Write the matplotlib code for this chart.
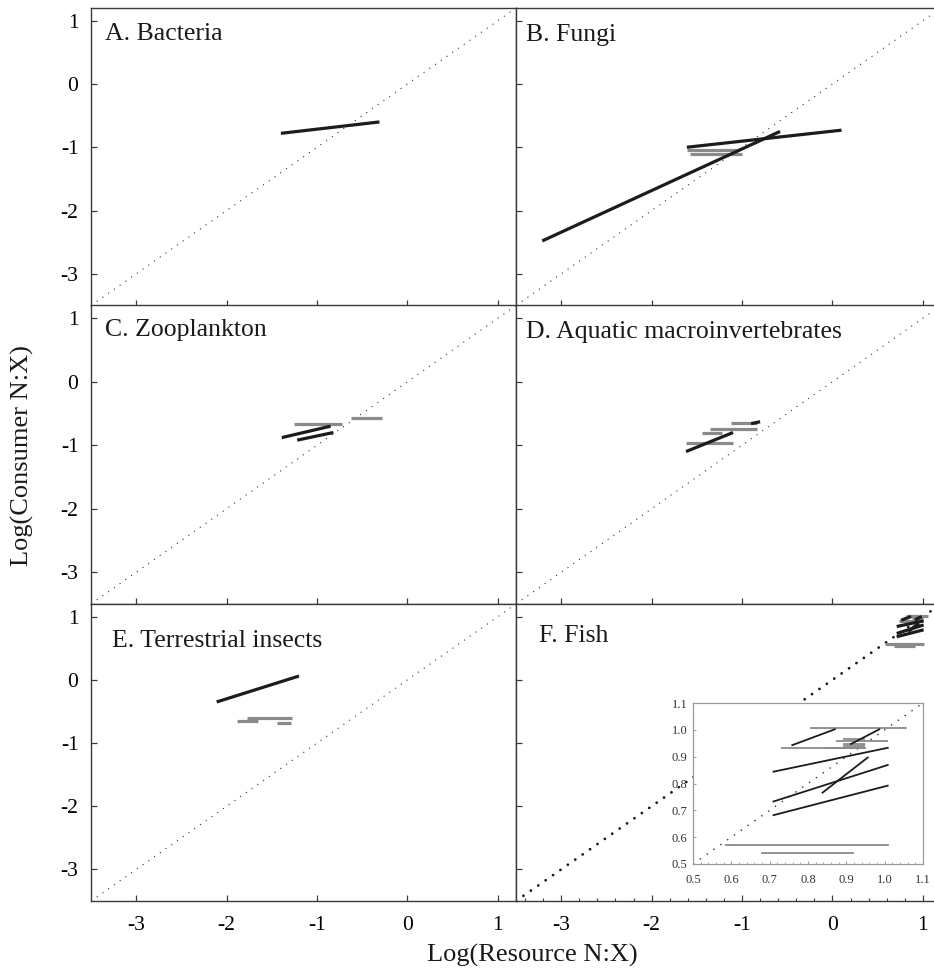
import matplotlib.pyplot as plt
import numpy as np
from matplotlib.ticker import MultipleLocator, FormatStrFormatter

plt.rcParams['font.family'] = ['Liberation Serif', 'DejaVu Serif']
plt.rcParams['axes.unicode_minus'] = False

LIM = (-3.5, 1.2)
TICKS = [-3, -2, -1, 0, 1]
INK = '#1c1c1c'
GREY = '#8a8a8a'
SPINE = '#3a3a3a'

# black segments (x0, x1, y0, y1), grey segments (x0, x1, y)
bact_black = [(-1.40, -0.31, -0.78, -0.60)]
bact_grey = []

fungi_black = [(-3.21, -0.58, -2.48, -0.75), (-1.61, 0.10, -1.00, -0.73)]
fungi_grey = [(-1.61, -1.03, -1.05), (-1.58, -1.00, -1.10)]

zoo_black = [(-1.39, -0.85, -0.88, -0.70), (-1.22, -0.82, -0.92, -0.80)]
zoo_grey = [(-1.26, -0.72, -0.67), (-0.62, -0.28, -0.57)]

aqua_black = [(-1.62, -1.10, -1.10, -0.80), (-0.90, -0.80, -0.66, -0.63)]
aqua_grey = [(-1.62, -1.10, -0.97), (-1.44, -1.22, -0.80),
             (-1.35, -0.83, -0.75), (-1.12, -0.83, -0.65)]

terr_black = [(-2.11, -1.20, -0.35, 0.06)]
terr_grey = [(-1.88, -1.65, -0.65), (-1.77, -1.28, -0.60), (-1.44, -1.29, -0.68)]

fish_black = [(0.759, 0.870, 0.943, 1.002), (0.912, 0.986, 0.947, 1.002),
              (0.710, 1.008, 0.844, 0.933), (0.710, 1.008, 0.733, 0.869),
              (0.838, 0.956, 0.766, 0.897), (0.710, 1.008, 0.682, 0.792)]
fish_grey = [(0.809, 1.055, 1.006), (0.733, 0.949, 0.934), (0.875, 1.006, 0.957),
             (0.895, 0.945, 0.967), (0.893, 0.945, 0.947), (0.895, 0.945, 0.941),
             (0.847, 0.947, 0.931), (0.585, 1.008, 0.572), (0.679, 0.918, 0.541)]

panels = [
    ('A. Bacteria', bact_black, bact_grey, (0.033, 0.95)),
    ('B. Fungi', fungi_black, fungi_grey, (0.024, 0.945)),
    ('C. Zooplankton', zoo_black, zoo_grey, (0.033, 0.955)),
    ('D. Aquatic macroinvertebrates', aqua_black, aqua_grey, (0.024, 0.948)),
    ('E. Terrestrial insects', terr_black, terr_grey, (0.05, 0.912)),
    ('F. Fish', fish_black, fish_grey, (0.054, 0.93)),
]

W, H = 934, 977
fig = plt.figure(figsize=(W / 100, H / 100), dpi=100)

col_left = [91, 516]
rows = [(8, 305.5), (305.5, 604), (604, 901)]

axes = []
for i, (title, blk, gry, tpos) in enumerate(panels):
    r, c = divmod(i, 2)
    top, bot = rows[r]
    ax = fig.add_axes([col_left[c] / W, 1 - bot / H, 425 / W, (bot - top) / H])
    ax.set_xlim(LIM)
    ax.set_ylim(LIM)
    ax.set_xticks(TICKS)
    ax.set_yticks(TICKS)
    ax.tick_params(direction='in', length=4, width=0.9, color=SPINE,
                   labelsize=15.5, pad=9)
    ax.tick_params(axis='x', pad=11)
    if c == 1:
        ax.tick_params(labelleft=False)
    if r < 2:
        ax.tick_params(labelbottom=False)
    for s in ax.spines.values():
        s.set_color(SPINE)
        s.set_linewidth(1.0)

    if i == 5:
        ax.plot(LIM, LIM, color=INK, lw=2.0, dashes=(0.05, 3.2),
                dash_capstyle='round')
        ax.xaxis.set_minor_locator(MultipleLocator(0.2))
        ax.tick_params(which='minor', direction='in', length=2.5, width=0.8,
                       color=SPINE)
    else:
        ax.plot(LIM, LIM, color='#333333', lw=0.8, dashes=(1, 5.3))

    for x0, x1, y in gry:
        ax.plot([x0, x1], [y, y], color=GREY, lw=2.3, solid_capstyle='butt')
    for x0, x1, y0, y1 in blk:
        ax.plot([x0, x1], [y0, y1], color=INK, lw=2.3, solid_capstyle='butt')

    ax.text(tpos[0], tpos[1], title, transform=ax.transAxes, fontsize=18.5,
            ha='left', va='top', color='#1a1a1a')
    axes.append(ax)

# inset of the fish panel
ins = fig.add_axes([693 / W, 1 - 864 / H, 230 / W, 161 / H])
ins.set_xlim(0.5, 1.1)
ins.set_ylim(0.5, 1.1)
ins.set_xticks(np.arange(0.5, 1.11, 0.1))
ins.set_yticks(np.arange(0.5, 1.11, 0.1))
ins.xaxis.set_major_formatter(FormatStrFormatter('%.1f'))
ins.yaxis.set_major_formatter(FormatStrFormatter('%.1f'))
ins.xaxis.set_minor_locator(MultipleLocator(0.02))
ins.tick_params(direction='in', length=2.5, width=0.6, color='#888888',
                labelsize=9, labelcolor='#333333', pad=4)
ins.tick_params(axis='x', pad=7)
ins.tick_params(which='minor', direction='in', length=1.5, width=0.5,
                color='#888888')
for s in ins.spines.values():
    s.set_color('#999999')
    s.set_linewidth(0.9)
ins.plot([0.5, 1.1], [0.5, 1.1], color='#333333', lw=1.0, dashes=(1, 5))
for x0, x1, y in fish_grey:
    ins.plot([x0, x1], [y, y], color=GREY, lw=1.3)
for x0, x1, y0, y1 in fish_black:
    ins.plot([x0, x1], [y0, y1], color=INK, lw=1.3)

fig.text(22 / W, 1 - 456 / H, 'Log(Consumer N:X)', rotation=90, fontsize=19,
         ha='center', va='center', color='#1a1a1a')
fig.text(532 / W, 1 - 955 / H, 'Log(Resource N:X)', fontsize=19,
         ha='center', va='center', color='#1a1a1a')

fig.savefig('out.png', dpi=100)
